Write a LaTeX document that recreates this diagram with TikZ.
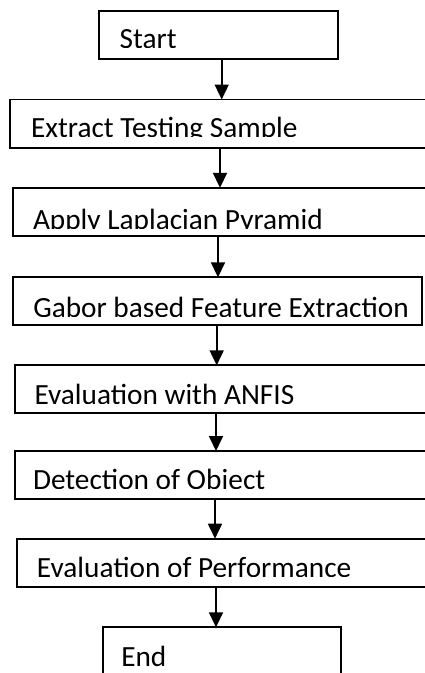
\documentclass[tikz,border=0pt]{standalone}
\usepackage{fontspec}
\setmainfont{Carlito}
\usetikzlibrary{arrows.meta}
\tikzset{
  box/.style={draw=black, line width=1.8pt, rectangle, inner sep=0pt, outer sep=0pt, anchor=north west},
  lbl/.style={inner sep=0pt, outer sep=0pt, anchor=base west, font=\fontsize{29.3}{29.3}\selectfont},
  arr/.style={draw=black, line width=1.8pt, -{Triangle[length=15pt,width=14pt]}}
}
\begin{document}
\begin{tikzpicture}[x=1pt,y=-1pt]
\useasboundingbox (0,0) rectangle (425,673);
\clip (0,0) rectangle (425,673);
\fill[white] (0,0) rectangle (425,673);
% boxes (most run past the right edge of the picture)
\node[box, minimum width=238.7pt, minimum height=48.6pt] (b1) at (99.3,10.7) {};
\node[box, minimum width=600pt, minimum height=48.2pt] (b2) at (10,99.5) {};
\node[box, minimum width=600pt, minimum height=48pt] (b3) at (12.7,187.8) {};
\node[box, minimum width=409pt, minimum height=47.7pt] (b4) at (13.3,277.3) {};
\node[box, minimum width=600pt, minimum height=48pt] (b5) at (15,365.3) {};
\node[box, minimum width=600pt, minimum height=47.8pt] (b6) at (15,451) {};
\node[box, minimum width=600pt, minimum height=48.1pt] (b7) at (16.7,538.7) {};
\node[box, minimum width=238pt, minimum height=70pt] (b8) at (102.7,627.3) {};
% texts (clipped at the baseline, as in the reference)
\begin{scope}\clip (0,0) rectangle (425,47.7);
\node[lbl] (t1) at (119.6,48.7) {Start};\end{scope}
\begin{scope}\clip (0,0) rectangle (425,136);
\node[lbl] (t2) at (31,137) {Extract Testing Sample};\end{scope}
\begin{scope}\clip (0,0) rectangle (425,228.3);
\node[lbl] (t3) at (33,229.3) {Apply Laplacian Pyramid};\end{scope}
\begin{scope}\clip (0,0) rectangle (425,316);
\node[lbl] (t4) at (33.3,317) {Gabor based Feature Extraction};\end{scope}
\begin{scope}\clip (0,0) rectangle (425,403.3);
\node[lbl] (t5) at (34.5,404.3) {Evaluation with ANFIS};\end{scope}
\begin{scope}\clip (0,0) rectangle (425,488.3);
\node[lbl] (t6) at (33,489.3) {Detection of Object};\end{scope}
\begin{scope}\clip (0,0) rectangle (425,576.7);
\node[lbl] (t7) at (37,577.7) {Evaluation of Performance};\end{scope}
\node[lbl] (t8) at (121.3,666.5) {End};
% arrow columns
\coordinate (x1) at (221.7,0);
\coordinate (x2) at (220,0);
\coordinate (x3) at (218,0);
\coordinate (x4) at (216.7,0);
\coordinate (x5) at (216,0);
\coordinate (x6) at (215,0);
\coordinate (x7) at (216,0);
\draw[arr] (x1 |- b1.south) -- (x1 |- b2.north);
\draw[arr] (x2 |- b2.south) -- (x2 |- b3.north);
\draw[arr] (x3 |- b3.south) -- (x3 |- b4.north);
\draw[arr] (x4 |- b4.south) -- (x4 |- b5.north);
\draw[arr] (x5 |- b5.south) -- (x5 |- b6.north);
\draw[arr] (x6 |- b6.south) -- (x6 |- b7.north);
\draw[arr] (x7 |- b7.south) -- (x7 |- b8.north);
\end{tikzpicture}
\end{document}
